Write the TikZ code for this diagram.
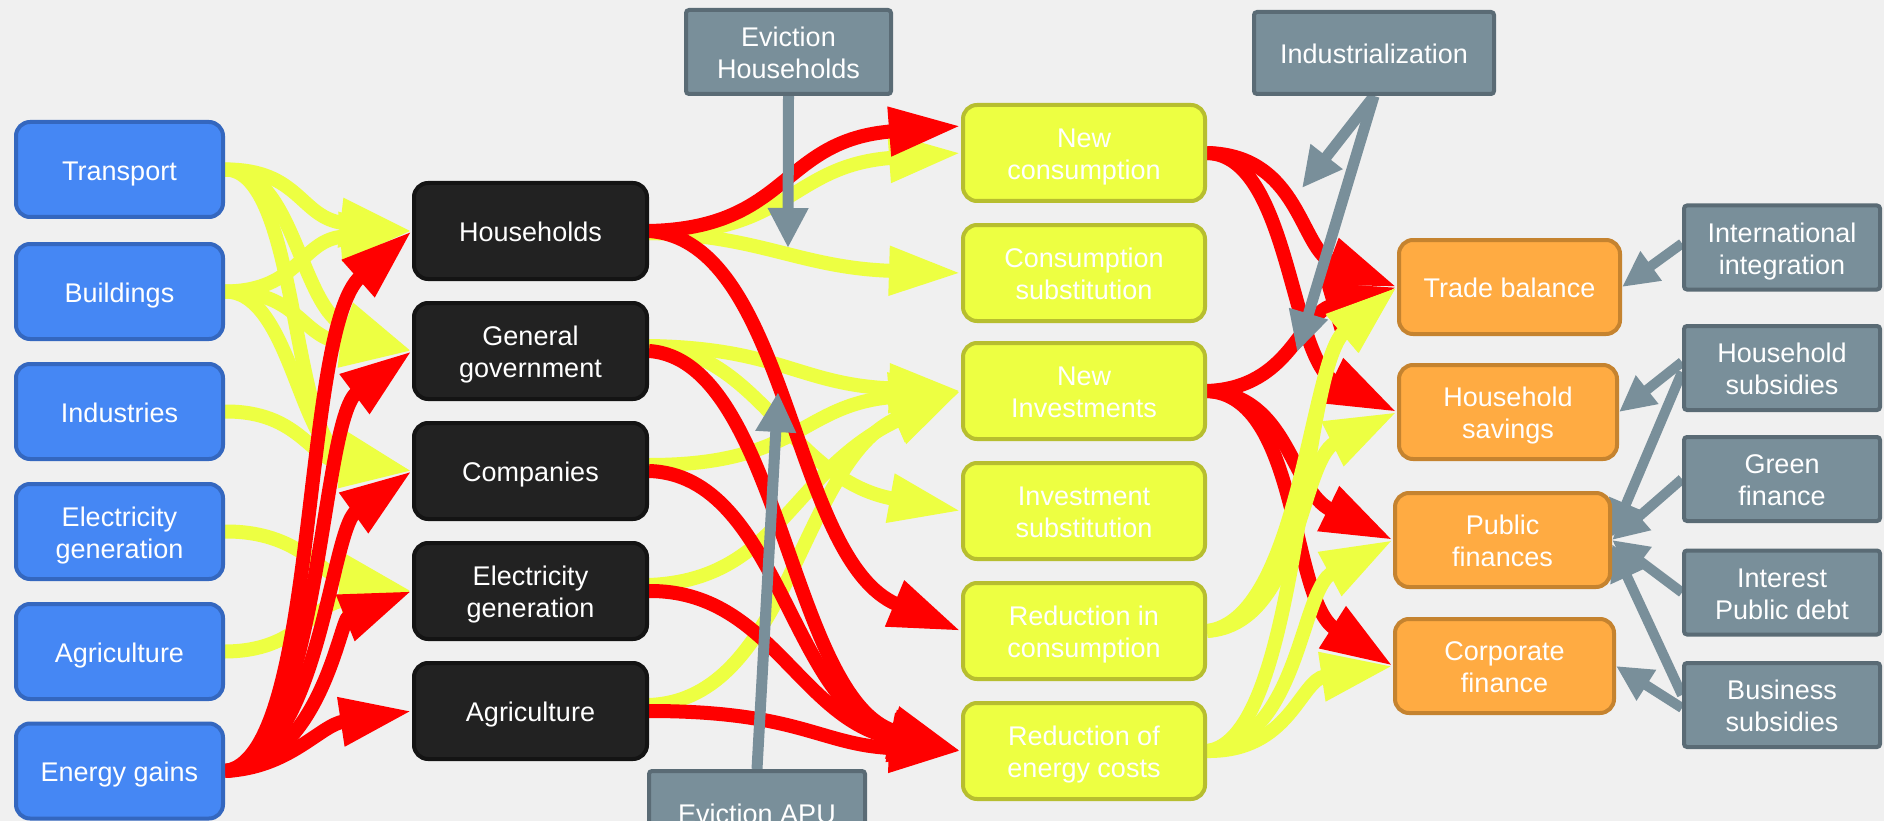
\documentclass[tikz,border=0pt]{standalone}
\usepackage{fontspec}
\setmainfont{Liberation Sans}
\usetikzlibrary{arrows.meta,calc}

\definecolor{paper}{HTML}{F0F0F0}
\definecolor{bluefill}{HTML}{4587F4}
\definecolor{blueline}{HTML}{3467BF}
\definecolor{darkfill}{HTML}{222222}
\definecolor{darkline}{HTML}{141414}
\definecolor{limefill}{HTML}{EDFF42}
\definecolor{limeline}{HTML}{B7BE2F}
\definecolor{orangefill}{HTML}{FFAB42}
\definecolor{orangeline}{HTML}{C5832F}
\definecolor{slatefill}{HTML}{798F9A}
\definecolor{slateline}{HTML}{5A6B75}
\definecolor{flowred}{HTML}{FF0000}

% centred label, set a little below the geometric middle of its box
\newcommand\boxlabel[1]{\raisebox{-4.5pt}[\height][\depth]{\begin{tabular}{@{}c@{}}#1\end{tabular}}}

\pgfdeclarelayer{paperlayer}
\pgfdeclarelayer{flows}
\pgfsetlayers{paperlayer,flows,main}

\begin{document}
\begin{tikzpicture}[x=1pt,y=-1pt,
  box/.style={rectangle, rounded corners=14pt, line width=4pt, text=white,
    inner sep=0pt, font=\fontsize{27}{32}\selectfont},
  sector/.style={box, fill=bluefill, draw=blueline, minimum width=207pt, minimum height=95pt},
  agent/.style={box, fill=darkfill, draw=darkline, minimum width=233pt, minimum height=96pt},
  effect/.style={box, fill=limefill, draw=limeline, minimum width=242pt, minimum height=96pt},
  account/.style={box, fill=orangefill, draw=orangeline, minimum height=94pt},
  lever/.style={box, rounded corners=3pt, fill=slatefill, draw=slateline,
    minimum width=196pt, minimum height=84pt},
  flow/.style={line width=14pt, -{Triangle[length=72pt,width=46pt]},
    preaction={draw=black, opacity=.15, transform canvas={shift={(2,3)}}}},
  yflow/.style={flow, draw=limefill},
  rflow/.style={flow, draw=flowred},
  gflow/.style={line width=11pt, draw=slatefill, -{Triangle[length=40pt,width=38pt]}},
  gflowthin/.style={line width=10pt, draw=slatefill, -{Triangle[length=36pt,width=34pt]}},
]
\useasboundingbox (0,0) rectangle (1884,821);
\begin{pgfonlayer}{paperlayer}
  \fill[paper] (0,0) rectangle (1884,821);
\end{pgfonlayer}

% sectors
\node[sector] (tr)  at (119.5,169.5) {\boxlabel{Transport}};
\node[sector] (bu)  at (119.5,291.5) {\boxlabel{Buildings}};
\node[sector] (ind) at (119.5,411.5) {\boxlabel{Industries}};
\node[sector] (elb) at (119.5,531.5) {\boxlabel{Electricity\\generation}};
\node[sector] (agb) at (119.5,651.5) {\boxlabel{Agriculture}};
\node[sector] (en)  at (119.5,771)   {\boxlabel{Energy gains}};

% agents
\node[agent] (hh)  at (530.5,231) {\boxlabel{Households}};
\node[agent] (gg)  at (530.5,351) {\boxlabel{General\\government}};
\node[agent] (co)  at (530.5,471) {\boxlabel{Companies}};
\node[agent] (egk) at (530.5,591) {\boxlabel{Electricity\\generation}};
\node[agent] (agk) at (530.5,711) {\boxlabel{Agriculture}};

% effects
\node[effect] (nc)  at (1084,153) {\boxlabel{New\\consumption}};
\node[effect] (cs)  at (1084,273) {\boxlabel{Consumption\\substitution}};
\node[effect] (ni)  at (1084,391) {\boxlabel{New\\Investments}};
\node[effect] (is)  at (1084,511) {\boxlabel{Investment\\substitution}};
\node[effect] (rc)  at (1084,631) {\boxlabel{Reduction in\\consumption}};
\node[effect] (rec) at (1084,751) {\boxlabel{Reduction of\\energy costs}};

% accounts
\node[account, minimum width=221pt] (tb) at (1509.5,287) {\boxlabel{Trade balance}};
\node[account, minimum width=218pt] (hs) at (1508,412)   {\boxlabel{Household\\savings}};
\node[account, minimum width=215pt] (pf) at (1502.5,540) {\boxlabel{Public\\finances}};
\node[account, minimum width=219pt] (cf) at (1504.5,666) {\boxlabel{Corporate\\finance}};

% levers
\node[lever] (ii)   at (1782,247.5) {\boxlabel{International\\integration}};
\node[lever] (hsub) at (1782,368)   {\boxlabel{Household\\subsidies}};
\node[lever] (gf)   at (1782,479)   {\boxlabel{Green\\finance}};
\node[lever] (ipd)  at (1782,592.5) {\boxlabel{Interest\\Public debt}};
\node[lever] (bs)   at (1782,705)   {\boxlabel{Business\\subsidies}};
\node[lever, minimum width=205pt] (eh) at (788.5,52) {\boxlabel{Eviction\\Households}};
\node[lever, minimum width=240pt, minimum height=82pt] (indz) at (1374,53) {\boxlabel{Industrialization}};
\node[lever, minimum width=216pt] (ea) at (757,813) {\boxlabel{Eviction APU}};

\coordinate (ehEnd) at (788,248);
\coordinate (eaEnd) at (778,392);
\coordinate (indA)  at (1302,188);
\coordinate (indB)  at (1297,352);

\begin{pgfonlayer}{flows}
% sectors -> agents
\draw[yflow] (tr.east) .. controls (300,169) and (300,218) .. (hh.west);
\draw[yflow] (tr.east) .. controls (295,169) and (300,310) .. (gg.west);
\draw[yflow] (tr.east) .. controls (300,169) and (290,445) .. (co.west);
\draw[yflow] (bu.east) .. controls (300,291) and (300,240) .. (hh.west);
\draw[yflow] (bu.east) .. controls (300,291) and (300,338) .. (gg.west);
\draw[yflow] (bu.east) .. controls (290,291) and (300,450) .. (co.west);
\draw[yflow] (ind.east) .. controls (300,411) and (310,460) .. (co.west);
\draw[yflow] (elb.east) .. controls (300,531) and (320,575) .. (egk.west);
\draw[yflow] (agb.east) .. controls (300,651) and (310,605) .. (egk.west);

\draw[rflow] (en.east) .. controls (320,760) and (300,330) .. (hh.west);
\draw[rflow] (en.east) .. controls (320,760) and (320,420) .. (gg.west);
\draw[rflow] (en.east) .. controls (320,760) and (330,530) .. (co.west);
\draw[rflow] (en.east) .. controls (320,765) and (340,620) .. (egk.west);
\draw[rflow] (en.east) .. controls (290,768) and (320,725) .. (agk.west);

% agents -> effects
\draw[yflow] ($(hh.east)+(0,2)$) .. controls (790,235) and (790,165) .. (nc.west);
\draw[yflow] ($(hh.east)+(0,2)$) .. controls (760,235) and (800,268) .. (cs.west);
\draw[yflow] ($(gg.east)+(0,-5)$) .. controls (780,348) and (800,385) .. (ni.west);
\draw[yflow] ($(gg.east)+(0,-5)$) .. controls (760,350) and (790,480) .. (is.west);
\draw[yflow] ($(co.east)+(0,-6)$) .. controls (800,465) and (800,405) .. (ni.west);
\draw[yflow] ($(egk.east)+(0,-6)$) .. controls (780,580) and (790,470) .. (ni.west);
\draw[yflow] ($(agk.east)+(0,-6)$) .. controls (790,700) and (800,460) .. (ni.west);

\draw[rflow] (hh.east) .. controls (790,228) and (780,140) .. ($(nc.west)+(0,-27)$);
\draw[rflow] (hh.east) .. controls (790,240) and (790,560) .. (rc.west);
\draw[rflow] (gg.east) .. controls (780,360) and (790,700) .. (rec.west);
\draw[rflow] (co.east) .. controls (780,475) and (790,710) .. (rec.west);
\draw[rflow] (egk.east) .. controls (770,590) and (800,720) .. (rec.west);
\draw[rflow] (agk.east) .. controls (800,711) and (820,745) .. (rec.west);

% effects -> accounts
\draw[rflow] (nc.east) .. controls (1300,155) and (1300,250) .. (tb.west);
\draw[rflow] (nc.east) .. controls (1290,155) and (1290,360) .. (hs.west);
\draw[rflow] (ni.east) .. controls (1290,388) and (1300,315) .. (tb.west);
\draw[rflow] (ni.east) .. controls (1290,395) and (1290,490) .. (pf.west);
\draw[rflow] (ni.east) .. controls (1300,395) and (1290,600) .. (cf.west);

\draw[yflow] (rc.east) .. controls (1300,620) and (1310,360) .. (tb.west);
\draw[yflow] (rc.east) .. controls (1300,625) and (1300,460) .. (hs.west);
\draw[yflow] (rec.east) .. controls (1300,740) and (1300,370) .. (tb.west);
\draw[yflow] (rec.east) .. controls (1300,740) and (1300,590) .. (pf.west);
\draw[yflow] (rec.east) .. controls (1290,752) and (1300,680) .. (cf.west);

% policy levers
\draw[gflow] (eh.south) -- (ehEnd);
\draw[gflow] (ea.north) -- (eaEnd);
\draw[gflow] (indz.south) -- (indA);
\draw[gflow] (indz.south) -- (indB);
\draw[gflowthin] ($(ii.west)+(0,-4)$) -- (tb.east);
\draw[gflowthin] ($(hsub.west)+(0,-6)$) -- (hs.east);
\draw[gflowthin] ($(hsub.west)+(0,4)$) -- ($(pf.east)+(0,-3)$);
\draw[gflowthin] (gf.west) -- (pf.east);
\draw[gflowthin] (ipd.west) -- (pf.east);
\draw[gflowthin] ($(bs.west)+(0,-10)$) -- ($(pf.east)+(0,4)$);
\draw[gflowthin] ($(bs.west)+(0,3)$) -- (cf.east);
\end{pgfonlayer}
\end{tikzpicture}
\end{document}
